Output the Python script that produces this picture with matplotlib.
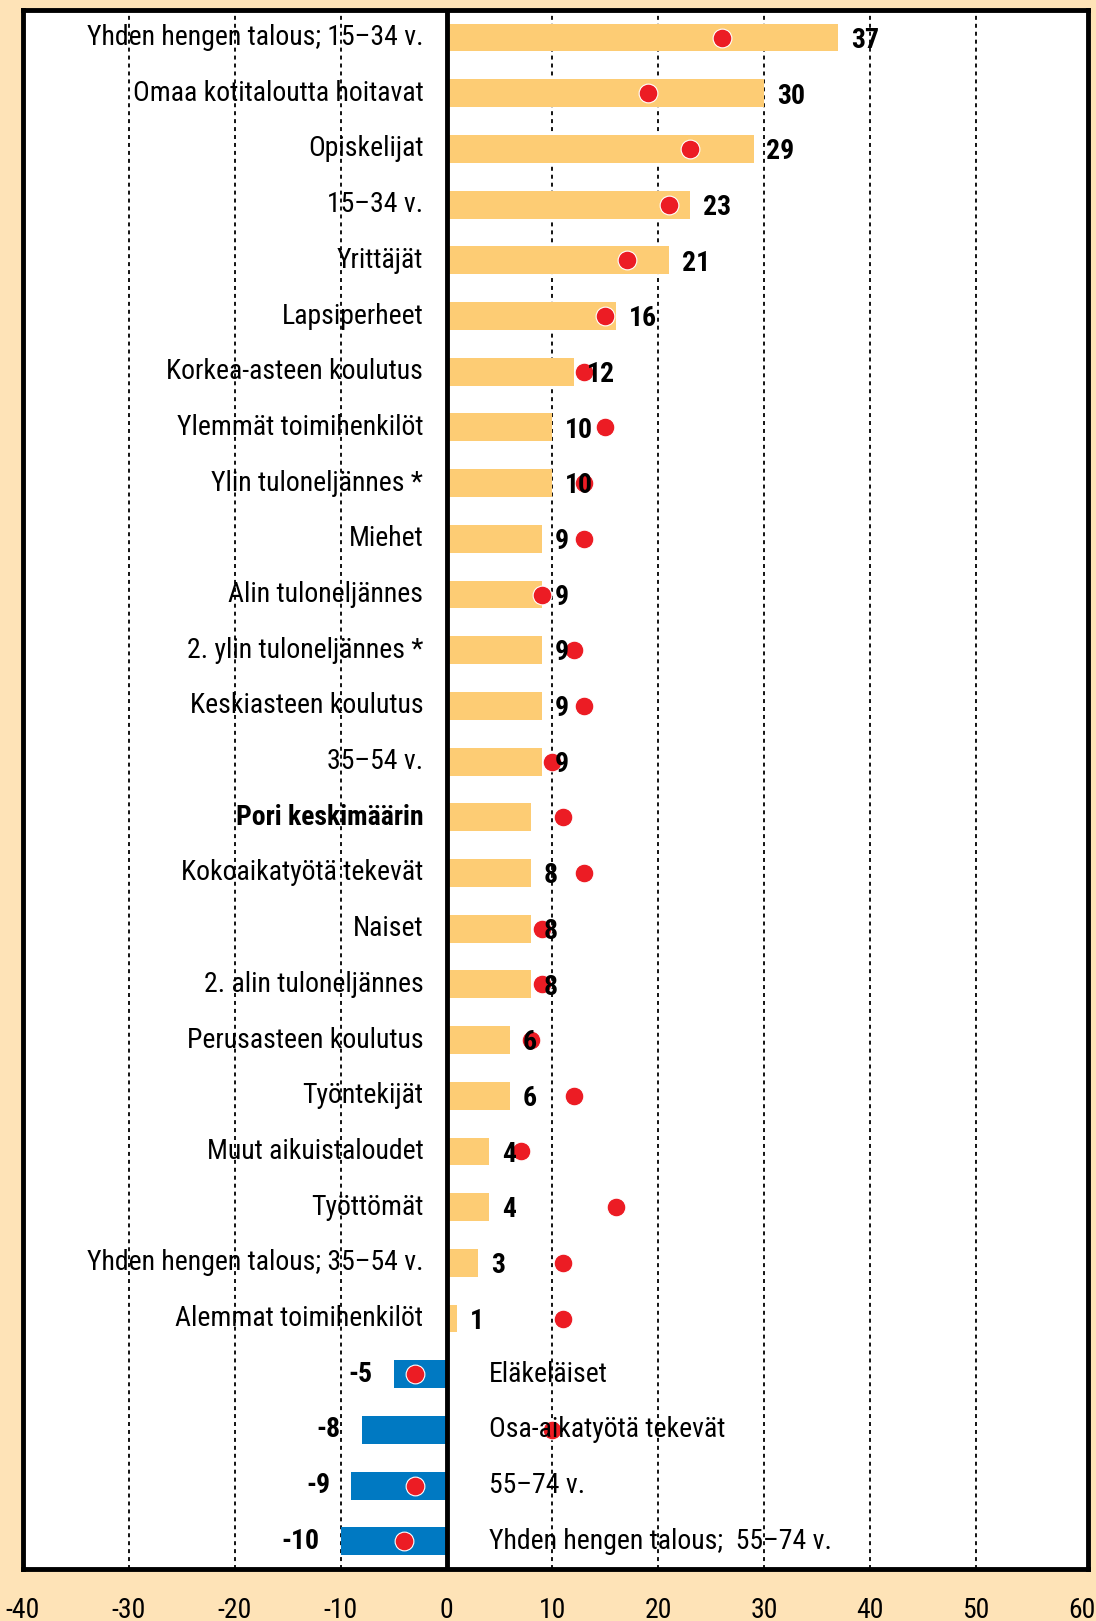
import matplotlib
matplotlib.use("Agg")
import matplotlib.pyplot as plt
from matplotlib import font_manager
import numpy as np

CATEGORIES = [
    "Yhden hengen talous; 15–34 v.",
    "Omaa kotitaloutta hoitavat",
    "Opiskelijat",
    "15–34 v.",
    "Yrittäjät",
    "Lapsiperheet",
    "Korkea-asteen koulutus",
    "Ylemmät toimihenkilöt",
    "Ylin tuloneljännes *",
    "Miehet",
    "Alin tuloneljännes",
    "2. ylin tuloneljännes *",
    "Keskiasteen koulutus",
    "35–54 v.",
    "Pori keskimäärin",
    "Kokoaikatyötä tekevät",
    "Naiset",
    "2. alin tuloneljännes",
    "Perusasteen koulutus",
    "Työntekijät",
    "Muut aikuistaloudet",
    "Työttömät",
    "Yhden hengen talous; 35–54 v.",
    "Alemmat toimihenkilöt",
    "Eläkeläiset",
    "Osa-aikatyötä tekevät",
    "55–74 v.",
    "Yhden hengen talous;  55–74 v.",
]
BAR_VALUES = [37, 30, 29, 23, 21, 16, 12, 10, 10, 9, 9, 9, 9, 9, 8, 8, 8, 8,
              6, 6, 4, 4, 3, 1, -5, -8, -9, -10]
DOT_VALUES = [26, 19, 23, 21, 17, 15, 13, 15, 13, 13, 9, 12, 13, 10, 11, 13, 9, 9,
              8, 12, 7, 16, 11, 11, -3, 10, -3, -4]
SHOW_VALUE = [c != "Pori keskimäärin" for c in CATEGORIES]
BOLD_CATEGORY = "Pori keskimäärin"
X_TICKS = [-40, -30, -20, -10, 0, 10, 20, 30, 40, 50, 60]

BG = "#FEE3B7"
ORANGE = "#FDCC74"
BLUE = "#0079C2"
RED = "#EC1C24"

# pick a narrow face if one is installed
names = {f.name for f in font_manager.fontManager.ttflist}
narrow = [n for n in ["Liberation Sans Narrow", "DejaVu Sans Condensed", "Roboto Condensed"]
          if n in names]
plt.rcParams["font.family"] = narrow + ["DejaVu Sans"]
plt.rcParams["font.stretch"] = "condensed"

FS = 20

fig = plt.figure(figsize=(10.96, 16.21), dpi=100, facecolor=BG)
ax = fig.add_axes([0.021, 0.032, 0.972, 0.962])
ax.set_facecolor("white")

y = np.arange(len(CATEGORIES))
vals = np.array(BAR_VALUES)
colors = [ORANGE if v >= 0 else BLUE for v in vals]
ax.barh(y, vals, height=0.5, color=colors, zorder=2)

for gx in X_TICKS[1:-1]:
    if gx == 0:
        continue
    ax.axvline(gx, color="black", linewidth=1.3, linestyle=(0, (2.2, 2.2)), zorder=1)
ax.axvline(0, color="black", linewidth=3.5, zorder=4)

ax.plot(DOT_VALUES, y, "o", color=RED, markersize=13.5, markeredgecolor="white",
        markeredgewidth=0.8, zorder=5)

for i, (cat, v) in enumerate(zip(CATEGORIES, BAR_VALUES)):
    weight = "bold" if cat == BOLD_CATEGORY else "normal"
    if v >= 0:
        ax.text(-2.2, i, cat, ha="right", va="center", fontsize=FS,
                fontweight=weight, zorder=6)
        if SHOW_VALUE[i]:
            ax.text(v + 1.2, i + 0.05, str(v), ha="left", va="center", fontsize=FS,
                    fontweight="bold", zorder=6)
    else:
        ax.text(4, i, cat, ha="left", va="center", fontsize=FS, zorder=6)
        ax.text(v - 2, i, str(v), ha="right", va="center", fontsize=FS,
                fontweight="bold", zorder=6)

ax.set_xlim(-40, 60.6)
ax.set_ylim(len(CATEGORIES) - 0.5, -0.5)
ax.set_xticks(X_TICKS)
ax.set_xticklabels([str(t) for t in X_TICKS])
ax.set_yticks([])
ax.tick_params(axis="x", length=0, pad=20, labelsize=FS)
for spine in ax.spines.values():
    spine.set_linewidth(3.5)
    spine.set_color("black")

fig.savefig("out.png", dpi=100, facecolor=BG)
